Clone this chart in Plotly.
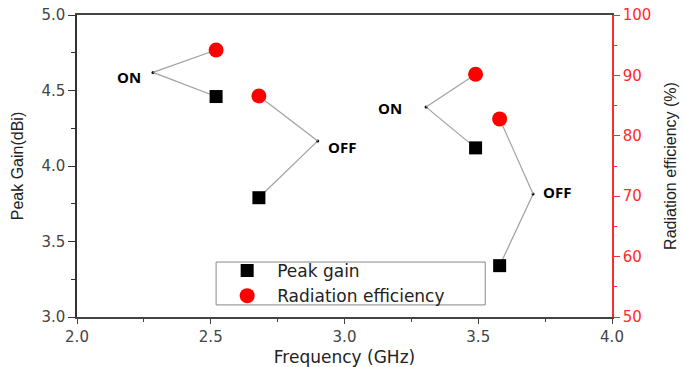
import plotly.graph_objects as go

# ---- data ----
frequency = [2.52, 2.68, 3.49, 3.58]          # GHz
peak_gain = [4.46, 3.79, 4.12, 3.34]          # dBi
rad_eff = [94.2, 86.6, 90.2, 82.8]            # %
state = ["ON", "OFF", "ON", "OFF"]
# label anchor points (frequency, gain-axis value)
anchor_freq = [2.284, 2.90, 3.305, 3.705]
anchor_gain = [4.62, 4.166, 4.39, 3.815]

x_ticks = [2.0, 2.5, 3.0, 3.5, 4.0]
gain_range = [3.0, 5.0]
eff_range = [50, 100]

RED = "#ff2a2a"
AX = "#333333"


def gain_to_eff(g):
    return eff_range[0] + (g - gain_range[0]) * (eff_range[1] - eff_range[0]) / (gain_range[1] - gain_range[0])


fig = go.Figure()

# connector lines (under the markers)
for i in range(len(frequency)):
    fig.add_trace(go.Scatter(x=[anchor_freq[i], frequency[i]], y=[anchor_gain[i], peak_gain[i]],
                             mode="lines", line=dict(color="#a0a0a0", width=1.2),
                             showlegend=False, hoverinfo="skip", yaxis="y"))
    fig.add_trace(go.Scatter(x=[anchor_freq[i], frequency[i]], y=[gain_to_eff(anchor_gain[i]), rad_eff[i]],
                             mode="lines", line=dict(color="#a0a0a0", width=1.2),
                             showlegend=False, hoverinfo="skip", yaxis="y2"))

fig.add_trace(go.Scatter(x=frequency, y=peak_gain, mode="markers", name="Peak gain",
                         marker=dict(symbol="square", size=13, color="black"), yaxis="y"))
fig.add_trace(go.Scatter(x=frequency, y=rad_eff, mode="markers", name="Radiation efficiency",
                         marker=dict(symbol="circle", size=15, color="#ff0000"), yaxis="y2"))
fig.add_trace(go.Scatter(x=anchor_freq, y=anchor_gain, mode="markers", showlegend=False,
                         marker=dict(size=3, color="black"), hoverinfo="skip", yaxis="y"))

# ON / OFF labels
for i, s in enumerate(state):
    if s == "ON":
        fig.add_annotation(x=anchor_freq[i], y=anchor_gain[i], text="<b>ON</b>", showarrow=False,
                           xanchor="right", xshift=-10 if i == 0 else -22, yshift=-5 if i == 0 else -1,
                           font=dict(family="Open Sans", size=15, color="black"))
    else:
        fig.add_annotation(x=anchor_freq[i], y=anchor_gain[i], text="<b>OFF</b>", showarrow=False,
                           xanchor="left", xshift=8, yshift=-6 if i == 1 else 2,
                           font=dict(family="Open Sans", size=15, color="black"))

# legend frame
fig.add_shape(type="rect", xref="paper", yref="paper", x0=0.26, x1=0.763, y0=0.04, y1=0.182,
              line=dict(color="#888", width=1), fillcolor="white", layer="below")

fig.update_layout(
    width=683, height=367,
    margin=dict(l=77, r=71, t=15, b=50),
    paper_bgcolor="white", plot_bgcolor="white",
    font=dict(family="DejaVu Sans", color=AX),
    xaxis=dict(range=[2, 4], tickvals=x_ticks, tickformat=".1f", automargin=False,
               showline=True, linecolor="#444", linewidth=1.5, mirror=True,
               ticks="outside", ticklen=5, tickcolor="#444", showgrid=False, zeroline=False,
               minor=dict(ticks="outside", ticklen=3, dtick=0.25, tickcolor="#444"),
               tickfont=dict(family="DejaVu Sans", size=15, color="#444"),
               title=dict(text="Frequency (GHz)", font=dict(family="DejaVu Sans", size=17, color="#222"),
                          standoff=10)),
    yaxis=dict(range=gain_range, dtick=0.5, tickformat=".1f", automargin=False,
               showline=True, linecolor=AX, linewidth=1.5,
               ticks="outside", ticklen=7, tickcolor=AX, showgrid=False, zeroline=False,
               minor=dict(ticks="outside", ticklen=4, dtick=0.25, tickcolor=AX),
               tickfont=dict(family="DejaVu Sans", size=15, color="#444"),
               title=dict(text="Peak Gain(dBi)", font=dict(family="Arial", size=16, color="#222"),
                          standoff=14)),
    yaxis2=dict(range=eff_range, dtick=10, overlaying="y", side="right", automargin=False,
                showline=True, linecolor=RED, linewidth=1.5,
                ticks="outside", ticklen=6, tickcolor=RED, showgrid=False, zeroline=False,
                minor=dict(ticks="outside", ticklen=3, dtick=5, tickcolor=RED),
                tickfont=dict(family="DejaVu Sans", size=15, color=RED),
                title=dict(text="Radiation efficiency (%)", font=dict(family="Arial", size=16, color="#222"),
                           standoff=14)),
    legend=dict(x=0.262, y=0.111, xanchor="left", yanchor="middle",
                bgcolor="rgba(0,0,0,0)", borderwidth=0,
                font=dict(family="DejaVu Sans", size=17, color="#222"),
                itemwidth=50, tracegroupgap=0),
)

fig.write_html("out.html")
